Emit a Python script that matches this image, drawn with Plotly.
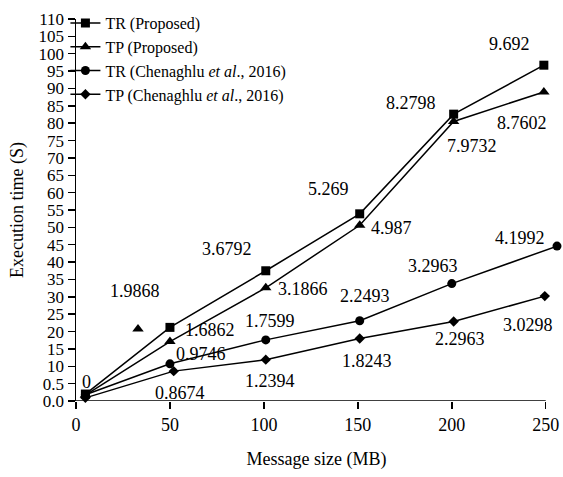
import plotly.graph_objects as go

# ---- data ----
x_sizes = [5, 50, 101, 151, 201, 249]
tr_prop = [2.0, 21.2, 37.5, 53.9, 82.6, 96.7]
tp_prop = [1.7, 17.1, 32.6, 50.6, 80.5, 89.0]
x_sizes_trc = [5, 50, 101, 151, 200, 256]
tr_chen = [1.8, 10.7, 17.6, 23.1, 33.8, 44.6]
x_sizes_tpc = [5, 52, 101, 151, 201, 249.5]
tp_chen = [0.9, 8.6, 11.9, 18.0, 22.9, 30.2]
stray_x = [33]
stray_y = [20.7]

tr_prop_lbl = ["0", "", "3.6792", "5.269", "8.2798", "9.692"]
tp_prop_lbl = ["", "1.6862", "3.1866", "4.987", "7.9732", "8.7602"]
tr_chen_lbl = ["", "0.9746", "1.7599", "2.2493", "3.2963", "4.1992"]
tp_chen_lbl = ["", "0.8674", "1.2394", "1.8243", "2.2963", "3.0298"]
stray_lbl = ["1.9868"]

y_tickvals = list(range(0, 111, 5))
y_ticktext = ["0.0", "0.5"] + [str(v) for v in range(10, 111, 5)]
x_tickvals = [0, 50, 100, 150, 200, 250]

# ---- label offsets (pixels: dx, dy with dy positive downward) ----
tr_prop_off = [(1, -12), (0, 0), (-39, -22), (-31, -25), (-43, -11), (-34, -21)]
tp_prop_off = [(0, 0), (40, -12), (37, 1), (32, 3), (18, 25), (-22, 31)]
tr_chen_off = [(0, 0), (31, -10), (4, -19), (5, -25), (-19, -18), (-37, -8)]
tp_chen_off = [(0, 0), (6, 22), (4, 21), (7, 23), (6, 18), (-17, 29)]
stray_off = [(-3, -38)]

FONT = "Liberation Serif, Times New Roman, serif"
FS = 18
fig = go.Figure()

def add(xs, ys, name, symbol, size, mode="lines+markers", showlegend=True):
    fig.add_trace(go.Scatter(
        x=xs, y=ys, name=name, mode=mode, showlegend=showlegend,
        line=dict(color="black", width=1.5),
        marker=dict(symbol=symbol, size=size, color="black"),
        cliponaxis=False,
    ))

add(x_sizes, tr_prop, "TR (Proposed)", "square", 9)
add(x_sizes, tp_prop, "TP (Proposed)", "triangle-up", 10)
add(x_sizes_trc, tr_chen, "TR (Chenaghlu <i>et al</i>., 2016)", "circle", 9)
add(x_sizes_tpc, tp_chen, "TP (Chenaghlu <i>et al</i>., 2016)", "diamond", 8)
add(stray_x, stray_y, "", "triangle-up", 10, mode="markers", showlegend=False)

annotations = []
def labels(xs, ys, texts, offs):
    for xv, yv, t, (dx, dy) in zip(xs, ys, texts, offs):
        if not t:
            continue
        annotations.append(dict(
            x=xv, y=yv, xref="x", yref="y", text=t, showarrow=False,
            xshift=dx, yshift=-dy, font=dict(family=FONT, size=FS, color="black"),
        ))

labels(x_sizes, tr_prop, tr_prop_lbl, tr_prop_off)
labels(x_sizes, tp_prop, tp_prop_lbl, tp_prop_off)
labels(x_sizes_trc, tr_chen, tr_chen_lbl, tr_chen_off)
labels(x_sizes_tpc, tp_chen, tp_chen_lbl, tp_chen_off)
labels(stray_x, stray_y, stray_lbl, stray_off)

fig.update_layout(
    width=563, height=477,
    margin=dict(l=76, r=6, t=14, b=76),
    paper_bgcolor="white", plot_bgcolor="white",
    font=dict(family=FONT, size=FS, color="black"),
    annotations=annotations,
    hovermode=False,
    shapes=[dict(type="line", xref="x", yref="y", x0=0, x1=250, y0=0, y1=0,
                 line=dict(color="black", width=1.5), layer="above")],
    legend=dict(x=-0.022, y=1.034, xanchor="left", yanchor="top",
                bgcolor="rgba(0,0,0,0)", font=dict(family=FONT, size=16),
                tracegroupgap=0, itemwidth=30),
    xaxis=dict(range=[0, 256], tickvals=x_tickvals, showline=False,
               automargin=False,
               ticks="outside", ticklen=7, tickwidth=1.5, tickcolor="black",
               tickfont=dict(family=FONT, size=FS),
               showgrid=False, zeroline=False,
               title=dict(text="Message size (MB)", standoff=18,
                          font=dict(family=FONT, size=FS))),
    yaxis=dict(range=[0, 110], tickvals=y_tickvals, ticktext=y_ticktext,
               automargin=False,
               showline=True, linecolor="black", linewidth=1.5,
               ticks="outside", ticklen=7, tickwidth=1.5, tickcolor="black",
               tickfont=dict(family=FONT, size=17),
               showgrid=False, zeroline=False,
               title=dict(text="Execution time (S)", standoff=10,
                          font=dict(family=FONT, size=FS))),
)

fig.write_html(
    "out.html",
    config={"displayModeBar": False, "staticPlot": True},
    post_script="document.body.style.margin='0';document.body.style.overflow='hidden';",
)
